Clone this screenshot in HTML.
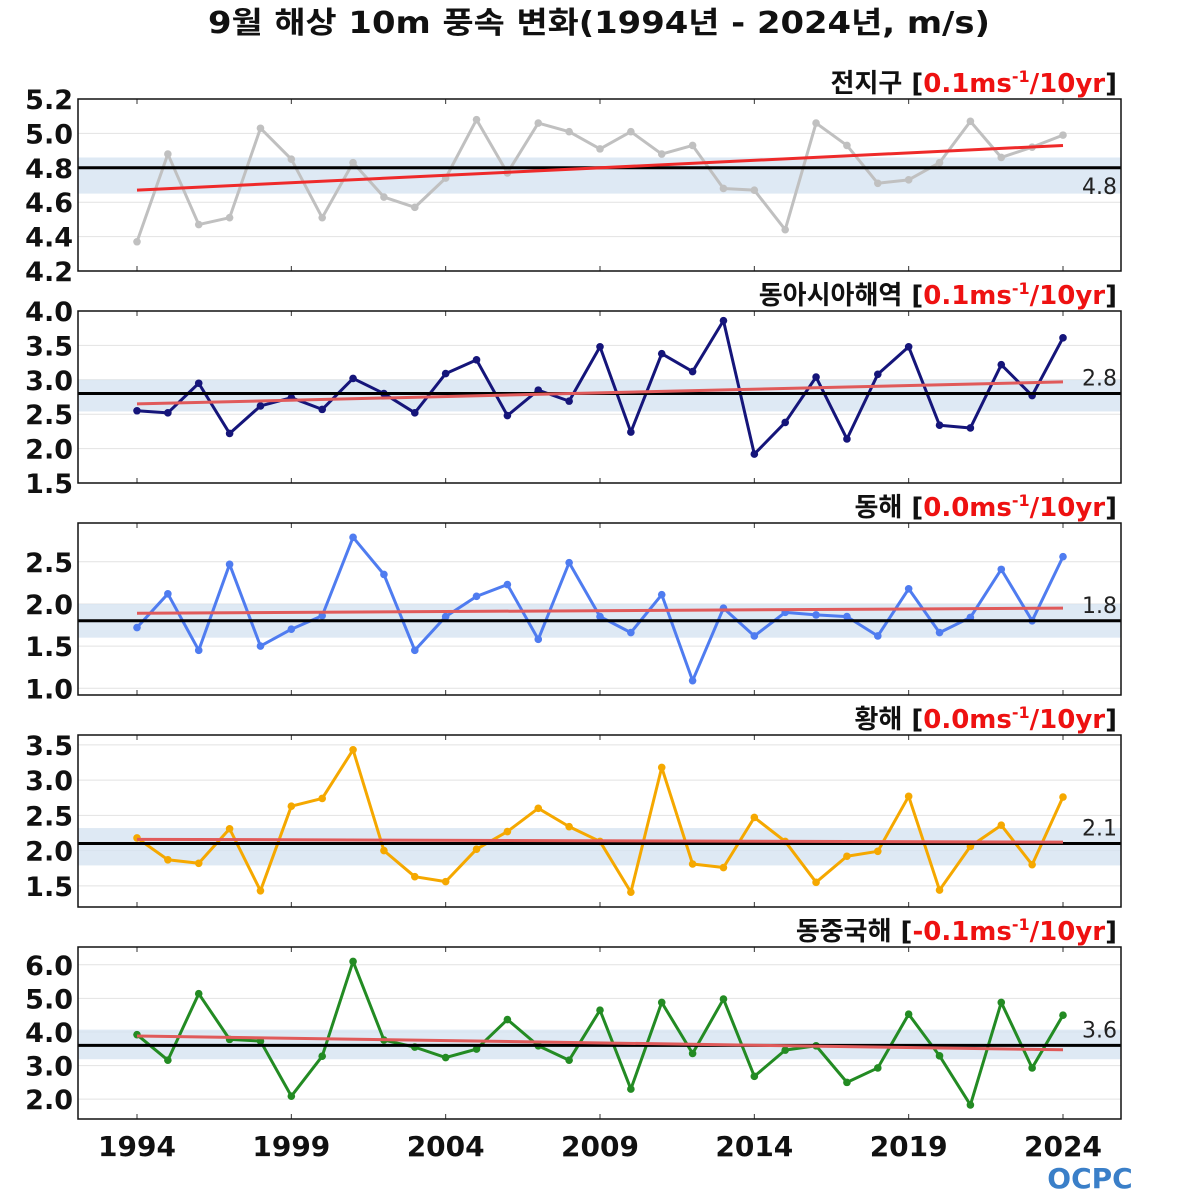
<!DOCTYPE html>
<html><head><meta charset="utf-8">
<style>
html,body{margin:0;padding:0;background:#fff;}
svg{display:block;font-family:"DejaVu Sans","Noto Sans CJK KR",sans-serif;}
</style></head>
<body>
<svg id="chart" width="1200" height="1200" viewBox="0 0 1200 1200">
<text x="599" y="33" text-anchor="middle" font-size="30" font-weight="bold" fill="#111" textLength="782" lengthAdjust="spacingAndGlyphs">9월 해상 10m 풍속 변화(1994년 - 2024년, m/s)</text>
<g id="logo">
<text x="1090" y="1188" text-anchor="middle" font-size="28" font-weight="bold" fill="#3a7fc8">OCPC</text>
</g>
</svg>
<script>
const years = [];
for (let y = 1994; y <= 2024; y++) years.push(y);
const xTicks = [1994, 1999, 2004, 2009, 2014, 2019, 2024];

const globalVals = [4.37,4.88,4.47,4.51,5.03,4.85,4.51,4.83,4.63,4.57,4.74,5.08,4.77,5.06,5.01,4.91,5.01,4.88,4.93,4.68,4.67,4.44,5.06,4.93,4.71,4.73,4.83,5.07,4.86,4.92,4.99];
const eastAsiaVals = [2.55,2.52,2.95,2.22,2.62,2.74,2.57,3.02,2.80,2.52,3.09,3.29,2.48,2.85,2.69,3.48,2.24,3.38,3.12,3.86,1.92,2.38,3.04,2.14,3.08,3.48,2.34,2.30,3.22,2.77,3.61];
const eastSeaVals = [1.72,2.12,1.45,2.47,1.50,1.70,1.86,2.79,2.35,1.45,1.85,2.09,2.23,1.58,2.49,1.85,1.66,2.11,1.09,1.95,1.62,1.90,1.87,1.85,1.62,2.18,1.66,1.84,2.41,1.80,2.56];
const yellowSeaVals = [2.18,1.87,1.82,2.31,1.43,2.63,2.74,3.43,2.00,1.63,1.56,2.02,2.27,2.60,2.34,2.13,1.41,3.18,1.81,1.76,2.47,2.13,1.55,1.92,1.99,2.77,1.44,2.06,2.36,1.80,2.76];
const ecsVals = [3.92,3.16,5.14,3.78,3.73,2.09,3.28,6.10,3.76,3.55,3.24,3.49,4.37,3.59,3.16,4.65,2.30,4.88,3.36,4.98,2.68,3.46,3.59,2.50,2.93,4.53,3.29,1.83,4.88,2.93,4.50];

const panelNames = ["전지구","동아시아해역","동해","황해","동중국해"];
const trendLabels = ["0.1","0.1","0.0","0.0","-0.1"];
const means = [4.8, 2.8, 1.8, 2.1, 3.6];
const bandLow = [4.65, 2.54, 1.60, 1.79, 3.19];
const bandHigh = [4.86, 3.00, 2.00, 2.32, 4.07];
const trendStart = [4.67, 2.65, 1.89, 2.16, 3.88];
const trendEnd = [4.93, 2.97, 1.95, 2.12, 3.47];
const yMin = [4.2, 1.5, 0.92, 1.2, 1.41];
const yMax = [5.2, 4.0, 2.96, 3.64, 6.53];
const yTicks = [
  [4.2,4.4,4.6,4.8,5.0,5.2],
  [1.5,2.0,2.5,3.0,3.5,4.0],
  [1.0,1.5,2.0,2.5],
  [1.5,2.0,2.5,3.0,3.5],
  [2.0,3.0,4.0,5.0,6.0]
];
const series = [globalVals, eastAsiaVals, eastSeaVals, yellowSeaVals, ecsVals];
const colors = ["#c0c0c0","#15157a","#4f7cf0","#f5a800","#238b23"];
const trendColors = ["#ee2a2a","#e05a5a","#e05a5a","#e05a5a","#e05a5a"];

const NS = "http://www.w3.org/2000/svg";
const svg = document.getElementById("chart");
const X0 = 78, X1 = 1121, PT = 99, PH = 172, GAP = 212;
const xScale = yr => 137 + (yr - 1994) * (1063 - 137) / 30;
function mk(tag, attrs, parent) {
  const e = document.createElementNS(NS, tag);
  for (const k in attrs) e.setAttribute(k, attrs[k]);
  (parent || svg).appendChild(e);
  return e;
}

for (let p = 0; p < 5; p++) {
  const top = PT + p * GAP, bot = top + PH;
  const ys = v => bot - (v - yMin[p]) / (yMax[p] - yMin[p]) * PH;
  const g = mk("g", {});
  
  
  yTicks[p].forEach(t => {
    const y = ys(t);
    if (y > top + 1 && y < bot - 1) {
      const gl = mk("line", {x1:X0, x2:X1, y1:y, y2:y, stroke:"#e2e2e2", "stroke-width":1}, g);
      
      
    }
    const tl = mk("text", {x:73, y:y+10, "text-anchor":"end", "font-size":27, "font-weight":"bold", fill:"#111"}, g);
    tl.textContent = t.toFixed(1);
    
    
  });
  const band = mk("rect", {x:X0, y:ys(bandHigh[p]), width:X1-X0, height:ys(bandLow[p])-ys(bandHigh[p]), fill:"#d6e4f1", opacity:0.8}, g);
  
  
  xTicks.forEach(yr => {
    const x = xScale(yr);
    mk("line", {x1:x, x2:x, y1:bot, y2:bot-5, stroke:"#333", "stroke-width":1}, g);
    mk("line", {x1:x, x2:x, y1:top, y2:top+5, stroke:"#333", "stroke-width":1}, g);
  });
  const pts = series[p].map((v, i) => xScale(years[i]) + "," + ys(v)).join(" ");
  const pl = mk("polyline", {points:pts, fill:"none", stroke:colors[p], "stroke-width":3, "stroke-linejoin":"round"}, g);
  
  
  series[p].forEach((v, i) => {
    const c = mk("circle", {cx:xScale(years[i]), cy:ys(v), r:3.8, fill:colors[p]}, g);
    
    
  });
  const ml = mk("line", {x1:X0, x2:X1, y1:ys(means[p]), y2:ys(means[p]), stroke:"#000", "stroke-width":3}, g);
  
  
  const tr = mk("line", {x1:xScale(1994), x2:xScale(2024), y1:ys(trendStart[p]), y2:ys(trendEnd[p]), stroke:trendColors[p], "stroke-width":3}, g);
  
  
  const labelY = p === 0 ? ys(means[p]) + 26 : ys(means[p]) - 8;
  const mt = mk("text", {x:1117, y:labelY, "text-anchor":"end", "font-size":22, fill:"#222"}, g);
  mt.textContent = means[p].toFixed(1);
  
  
  const fr = mk("rect", {x:X0, y:top, width:X1-X0, height:PH, fill:"none", stroke:"#111", "stroke-width":1.5}, g);
  
  
  const tt = mk("text", {x:1117, y:top-7, "text-anchor":"end", "font-size":26, "font-weight":"bold", fill:"#111"}, g);
  
  
  const s1 = mk("tspan", {}, tt); s1.textContent = panelNames[p] + " [";
  const s2 = mk("tspan", {fill:"#ee1111"}, tt); s2.textContent = trendLabels[p] + "ms";
  const s3 = mk("tspan", {fill:"#ee1111", "font-size":16, dy:-10}, tt); s3.textContent = "-1";
  const s4 = mk("tspan", {fill:"#ee1111", dy:10}, tt); s4.textContent = "/10yr";
  const s5 = mk("tspan", {}, tt); s5.textContent = "]";
}
xTicks.forEach(yr => {
  const t = mk("text", {x:xScale(yr), y:1156, "text-anchor":"middle", "font-size":28, "font-weight":"bold", fill:"#111"});
  t.textContent = yr;
  
  
});
</script>
</body></html>
